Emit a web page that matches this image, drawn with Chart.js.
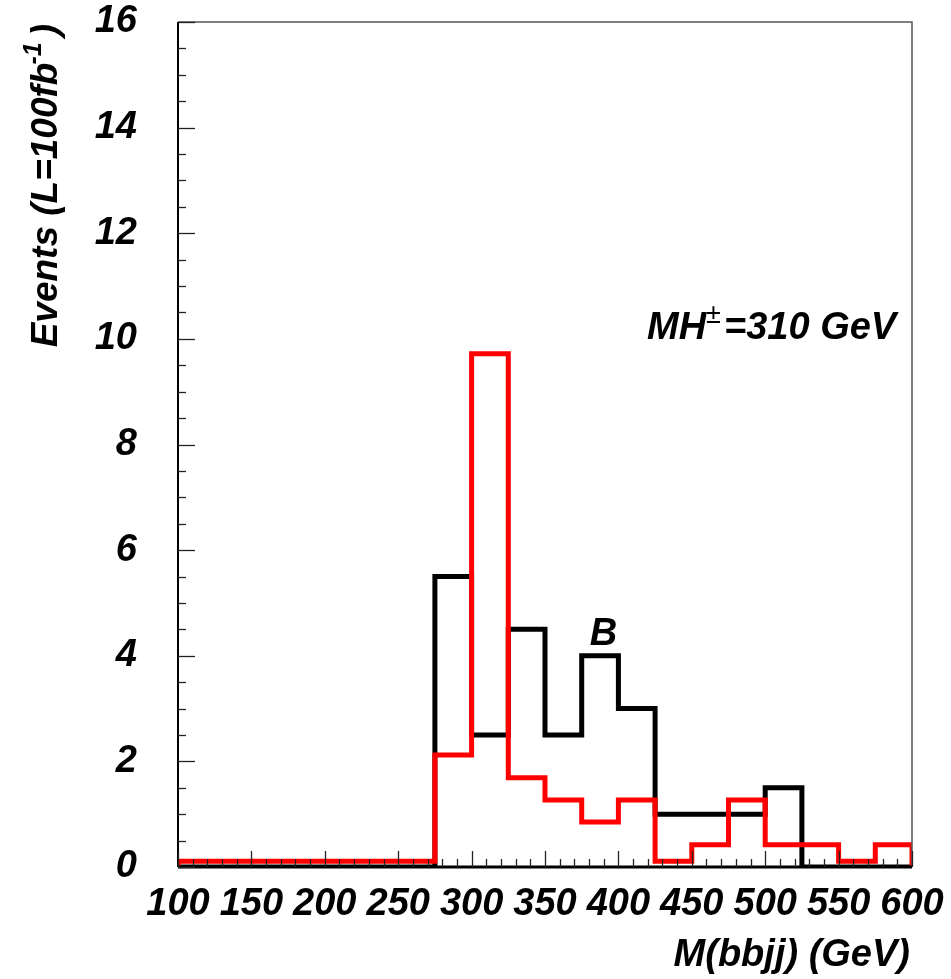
<!DOCTYPE html>
<html>
<head>
<meta charset="utf-8">
<script src="https://cdn.jsdelivr.net/npm/chart.js@4.4.1/dist/chart.umd.min.js"></script>
<style>
  html, body { margin: 0; padding: 0; background: #fff; }
  #wrap { width: 951px; height: 979px; }
</style>
</head>
<body>
<div id="wrap"><canvas id="c" width="951" height="979"></canvas></div>
<script>
// Bin edges of the M(bbjj) histograms (GeV), 25 GeV wide
const binEdges = [100, 125, 150, 175, 200, 225, 250, 275, 300, 325, 350,
                  375, 400, 425, 450, 475, 500, 525, 550, 575, 600];
// Background (B) events per bin
const background = [0, 0, 0, 0, 0, 0, 0, 5.5, 2.5, 4.5, 2.5,
                    4.0, 3.0, 1.0, 1.0, 1.0, 1.5, 0, 0, 0];
// Signal events per bin for MH± = 310 GeV
const signal = [0.11, 0.11, 0.11, 0.11, 0.11, 0.11, 0.11, 2.12, 9.72, 1.69, 1.27,
                0.85, 1.27, 0.11, 0.42, 1.27, 0.42, 0.42, 0.11, 0.42];
const xTickValues = [100, 150, 200, 250, 300, 350, 400, 450, 500, 550, 600];
const yTickValues = [0, 2, 4, 6, 8, 10, 12, 14, 16];

const FONT = '"Liberation Sans", "Helvetica", Arial, sans-serif';

// Turn per-bin contents into a stepped outline (closed down to zero at both ends)
function outline(values) {
  const pts = [{ x: binEdges[0], y: 0 }];
  values.forEach((v, i) => pts.push({ x: binEdges[i], y: v }));
  pts.push({ x: binEdges[binEdges.length - 1], y: values[values.length - 1] });
  pts.push({ x: binEdges[binEdges.length - 1], y: 0 });
  return pts;
}

// Inward tick marks, frame and text labels in ROOT style
const decorations = {
  id: 'decorations',
  afterDatasetsDraw(chart) {
    const { ctx, chartArea: a, scales: { x, y } } = chart;
    ctx.save();
    // frame top and right
    ctx.strokeStyle = '#555';
    ctx.lineWidth = 1.5;
    ctx.beginPath();
    ctx.moveTo(a.left, a.top); ctx.lineTo(a.right, a.top); ctx.lineTo(a.right, a.bottom);
    ctx.stroke();
    // axis lines
    ctx.strokeStyle = '#000';
    ctx.lineWidth = 2;
    ctx.beginPath(); ctx.moveTo(a.left, a.top); ctx.lineTo(a.left, a.bottom); ctx.stroke();
    ctx.lineWidth = 3;
    ctx.beginPath(); ctx.moveTo(a.left, a.bottom); ctx.lineTo(a.right, a.bottom); ctx.stroke();
    // x ticks: minor every 10 GeV, major every 50 GeV
    ctx.lineWidth = 1.3;
    ctx.strokeStyle = '#222';
    for (let v = x.min; v <= x.max + 1e-6; v += 10) {
      const px = Math.round(x.getPixelForValue(v)) + 0.5;
      const len = (v % 50 === 0) ? 16 : 8;
      ctx.beginPath(); ctx.moveTo(px, a.bottom); ctx.lineTo(px, a.bottom - len); ctx.stroke();
    }
    // y ticks: minor every 0.5, major every 2
    for (let v = y.min; v <= y.max + 1e-6; v += 0.5) {
      const py = Math.round(y.getPixelForValue(v)) + 0.5;
      const len = (v % 2 === 0) ? 17 : 8;
      ctx.beginPath(); ctx.moveTo(a.left, py); ctx.lineTo(a.left + len, py); ctx.stroke();
    }
    ctx.fillStyle = '#000';
    // x axis title
    ctx.font = 'italic bold 38px ' + FONT;
    ctx.textAlign = 'right';
    ctx.textBaseline = 'alphabetic';
    ctx.fillText('M(bbjj) (GeV)', a.right - 2, 966);
    // y axis title with superscript
    ctx.save();
    ctx.translate(57, a.top + 2);
    ctx.rotate(-Math.PI / 2);
    ctx.textAlign = 'right';
    const big = 'italic bold 37px ' + FONT;
    const small = 'italic bold 25px ' + FONT;
    ctx.font = big;
    const wClose = ctx.measureText(')').width;
    ctx.font = small;
    const wSup = ctx.measureText('-1').width;
    ctx.font = big;
    ctx.fillText(')', 0, 0);
    ctx.font = small;
    ctx.fillText('-1', -wClose - 6, -16);
    ctx.font = big;
    ctx.fillText('Events (L=100fb', -wClose - wSup - 4, 0);
    ctx.restore();
    // annotations
    ctx.font = 'italic bold 38px ' + FONT;
    ctx.textAlign = 'left';
    const bx = x.getPixelForValue(380.5), by = y.getPixelForValue(4.2);
    ctx.fillText('B', bx, by);
    const mx = x.getPixelForValue(419.5), my = y.getPixelForValue(10.0);
    ctx.fillText('MH', mx, my);
    ctx.font = '27px ' + FONT;
    ctx.fillText('\u00B1', mx + 59, my - 16);
    ctx.font = 'italic bold 38px ' + FONT;
    ctx.fillText('=310 GeV', mx + 77, my);
    ctx.restore();
  }
};

new Chart(document.getElementById('c'), {
  type: 'line',
  data: {
    datasets: [
      {
        label: 'B',
        data: outline(background),
        stepped: 'before',
        borderColor: '#000',
        borderWidth: 5,
        pointRadius: 0,
        fill: false,
        order: 2
      },
      {
        label: 'MH\u00B1=310 GeV',
        data: outline(signal),
        stepped: 'before',
        borderColor: '#ff0000',
        borderWidth: 5,
        pointRadius: 0,
        fill: false,
        order: 1
      }
    ]
  },
  options: {
    responsive: false,
    animation: false,
    events: [],
    layout: { padding: { top: 22, right: 39, left: 0, bottom: 0 } },
    plugins: { legend: { display: false }, tooltip: { enabled: false }, title: { display: false } },
    scales: {
      x: {
        type: 'linear',
        min: 100, max: 600,
        afterFit(s) { s.height = 112; s.paddingLeft = 0; s.paddingRight = 0; },
        afterBuildTicks(s) { s.ticks = xTickValues.map(v => ({ value: v })); },
        grid: { display: false, drawTicks: false },
        border: { display: false },
        ticks: {
          padding: 15,
          maxRotation: 0,
          autoSkip: false,
          color: '#000',
          font: { family: FONT, size: 38, style: 'italic', weight: 'bold' }
        }
      },
      y: {
        type: 'linear',
        min: 0, max: 16,
        afterFit(s) { s.width = 178; s.paddingTop = 0; s.paddingBottom = 0; },
        afterBuildTicks(s) { s.ticks = yTickValues.map(v => ({ value: v })); },
        grid: { display: false, drawTicks: false },
        border: { display: false },
        ticks: {
          padding: 41,
          color: '#000',
          font: { family: FONT, size: 38, style: 'italic', weight: 'bold' }
        }
      }
    }
  },
  plugins: [decorations]
});
</script>
</body>
</html>
